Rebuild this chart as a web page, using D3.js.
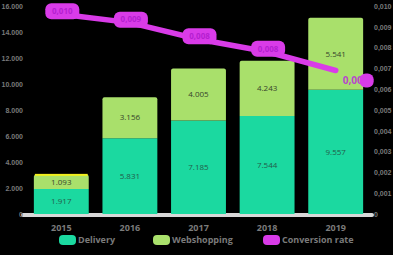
<!DOCTYPE html>
<html>
<head>
<meta charset="utf-8">
<script src="https://cdn.jsdelivr.net/npm/d3@7"></script>
<style>
  html, body { margin: 0; padding: 0; background: #000; }
  svg { display: block; font-family: "Open Sans", "DejaVu Sans", sans-serif; }
</style>
</head>
<body>
<svg id="chart" width="393" height="255"></svg>
<script>
const years = ['2015', '2016', '2017', '2018', '2019'];
const delivery = [1917, 5831, 7185, 7544, 9557];
const webshop = [1093, 3156, 4005, 4243, 5541];
const rate = [0.0096, 0.0092, 0.0084, 0.0078, 0.0069];
const leftTicks = [0, 2000, 4000, 6000, 8000, 10000, 12000, 14000, 16000];
const rightTicks = [0, 0.001, 0.002, 0.003, 0.004, 0.005, 0.006, 0.007, 0.008, 0.009, 0.01];
const legendNames = ['Delivery', 'Webshopping', 'Conversion rate'];

const draw = () => {
  let
    svg = d3.select('#chart'),
    margin = {top: 6, right: 23, bottom: 41, left: 27},
    W = +svg.attr('width'),
    H = +svg.attr('height'),
    base = H - margin.bottom,
    colors = {delivery: '#1bd9a0', webshop: '#a9e06b', line: '#d93be8', axis: '#7a7a7a'},
    x = d3.scaleBand().domain(years).range([margin.left, W - margin.right]).paddingInner(0.2).paddingOuter(0.1),
    yL = d3.scaleLinear().domain([0, 16000]).range([base, margin.top]),
    yR = d3.scaleLinear().domain([0, 0.01]).range([base, margin.top]),
    fmtK = d3.formatLocale({decimal: ',', thousands: '.', grouping: [3], currency: ['', '']}),
    fmtInt = fmtK.format(',d'),
    fmtRate = v => v === 0 ? '0' : fmtK.format('.3f')(v),
    rows = years.map((y, i) => ({year: y, delivery: delivery[i], webshop: webshop[i], rate: rate[i]})),
    stack = d3.stack().keys(['delivery', 'webshop'])(rows)
    ;

  // floor strip
  svg.append('line')
    .attr('x1', margin.left - 4).attr('x2', W - margin.right + 2)
    .attr('y1', base + 1).attr('y2', base + 1)
    .attr('stroke', '#d8d8d8').attr('stroke-width', 4).attr('stroke-linecap', 'round')
  ;

  // left axis
  const axL = svg.append('g')
    .attr('transform', `translate(${margin.left},0)`)
    .call(d3.axisLeft(yL).tickValues(leftTicks).tickFormat(d => d === 0 ? '0' : fmtInt(d)).tickSize(0).tickPadding(4))
  ;
  axL.select('.domain').remove();
  axL.selectAll('text').attr('fill', colors.axis).attr('font-size', 7).attr('font-weight', 'bold');

  // right axis
  const axR = svg.append('g')
    .attr('transform', `translate(${W - margin.right},0)`)
    .call(d3.axisRight(yR).tickValues(rightTicks).tickFormat(fmtRate).tickSize(0).tickPadding(4))
  ;
  axR.select('.domain').remove();
  axR.selectAll('text').attr('fill', colors.axis).attr('font-size', 7).attr('font-weight', 'bold');

  // bars
  const layers = svg.append('g').selectAll('g.bars')
    .data(stack)
    .join('g')
      .attr('class', 'bars')
      .attr('fill', d => colors[d.key])
  ;
  layers.selectAll('path')
    .data(d => d.map(s => Object.assign(s, {key: d.key})))
    .join('path')
      .attr('d', d => {
        let x0 = x(d.data.year), w = x.bandwidth(), y0 = yL(d[0]), y1 = yL(d[1]), r = d.key === 'webshop' ? 2 : 0;
        return `M${x0},${y0}V${y1 + r}Q${x0},${y1} ${x0 + r},${y1}H${x0 + w - r}Q${x0 + w},${y1} ${x0 + w},${y1 + r}V${y0}Z`;
      })
  ;
  // thin yellow cap on first bar
  svg.append('rect')
    .attr('x', x(years[0]) + 1).attr('width', x.bandwidth() - 2)
    .attr('y', yL(delivery[0] + webshop[0]) - 1).attr('height', 2)
    .attr('fill', '#f2ef1c')
  ;

  layers.selectAll('text')
    .data(d => d)
    .join('text')
      .attr('x', d => x(d.data.year) + x.bandwidth() / 2)
      .attr('y', d => (yL(d[0]) + yL(d[1])) / 2)
      .attr('dy', '0.35em')
      .attr('text-anchor', 'middle')
      .attr('font-size', 8)
      .attr('fill', d => d.key === 'delivery' ? '#235c4a' : '#37452b')
      .text(d => fmtInt(d[1] - d[0]))
  ;

  // x labels
  svg.append('g').selectAll('text')
    .data(years)
    .join('text')
      .attr('x', d => x(d) + x.bandwidth() / 2)
      .attr('y', base + 17)
      .attr('text-anchor', 'middle')
      .attr('font-size', 9)
      .attr('font-weight', 'bold')
      .attr('fill', colors.axis)
      .text(d => d)
  ;

  // rate line
  const cx = d => x(d.year) + x.bandwidth() / 2;
  svg.append('path')
    .datum(rows)
    .attr('fill', 'none')
    .attr('stroke', colors.line)
    .attr('stroke-width', 5.5)
    .attr('stroke-linecap', 'round')
    .attr('d', d3.line().x(cx).y(d => yR(d.rate)))
  ;
  const tags = svg.append('g').selectAll('g')
    .data(rows.slice(0, -1))
    .join('g')
      .attr('transform', d => `translate(${cx(d) + 1},${yR(d.rate) - 3})`)
  ;
  tags.append('rect')
    .attr('x', -17).attr('y', -8).attr('width', 34).attr('height', 16).attr('rx', 6)
    .attr('fill', colors.line)
  ;
  tags.append('text')
    .attr('text-anchor', 'middle').attr('dy', '0.35em')
    .attr('font-size', 8).attr('font-weight', 'bold')
    .attr('fill', '#b51fd0')
    .text(d => fmtRate(d.rate))
  ;
  let last = rows[rows.length - 1];
  svg.append('text')
    .attr('x', cx(last) + 7).attr('y', yR(last.rate) + 10)
    .attr('dy', '0.35em')
    .attr('font-size', 10).attr('font-weight', 'bold')
    .attr('fill', '#b847cc')
    .text(fmtRate(last.rate))
  ;
  svg.append('rect')
    .attr('x', cx(last) + 24).attr('y', yR(last.rate) + 3).attr('width', 14).attr('height', 14).attr('rx', 6)
    .attr('fill', colors.line)
  ;

  // legend
  const legend = svg.append('g').selectAll('g')
    .data(legendNames)
    .join('g')
      .attr('transform', (d, i) => `translate(${[59, 153, 263][i]},${H - 15})`)
  ;
  legend.append('rect')
    .attr('width', 17).attr('height', 10).attr('y', -5).attr('rx', 4)
    .attr('fill', (d, i) => [colors.delivery, colors.webshop, colors.line][i])
  ;
  legend.append('text')
    .attr('x', 19).attr('dy', '0.35em')
    .attr('font-size', 9).attr('font-weight', 'bold')
    .attr('fill', colors.axis)
    .text(d => d)
  ;
};
draw();
</script>
</body>
</html>
